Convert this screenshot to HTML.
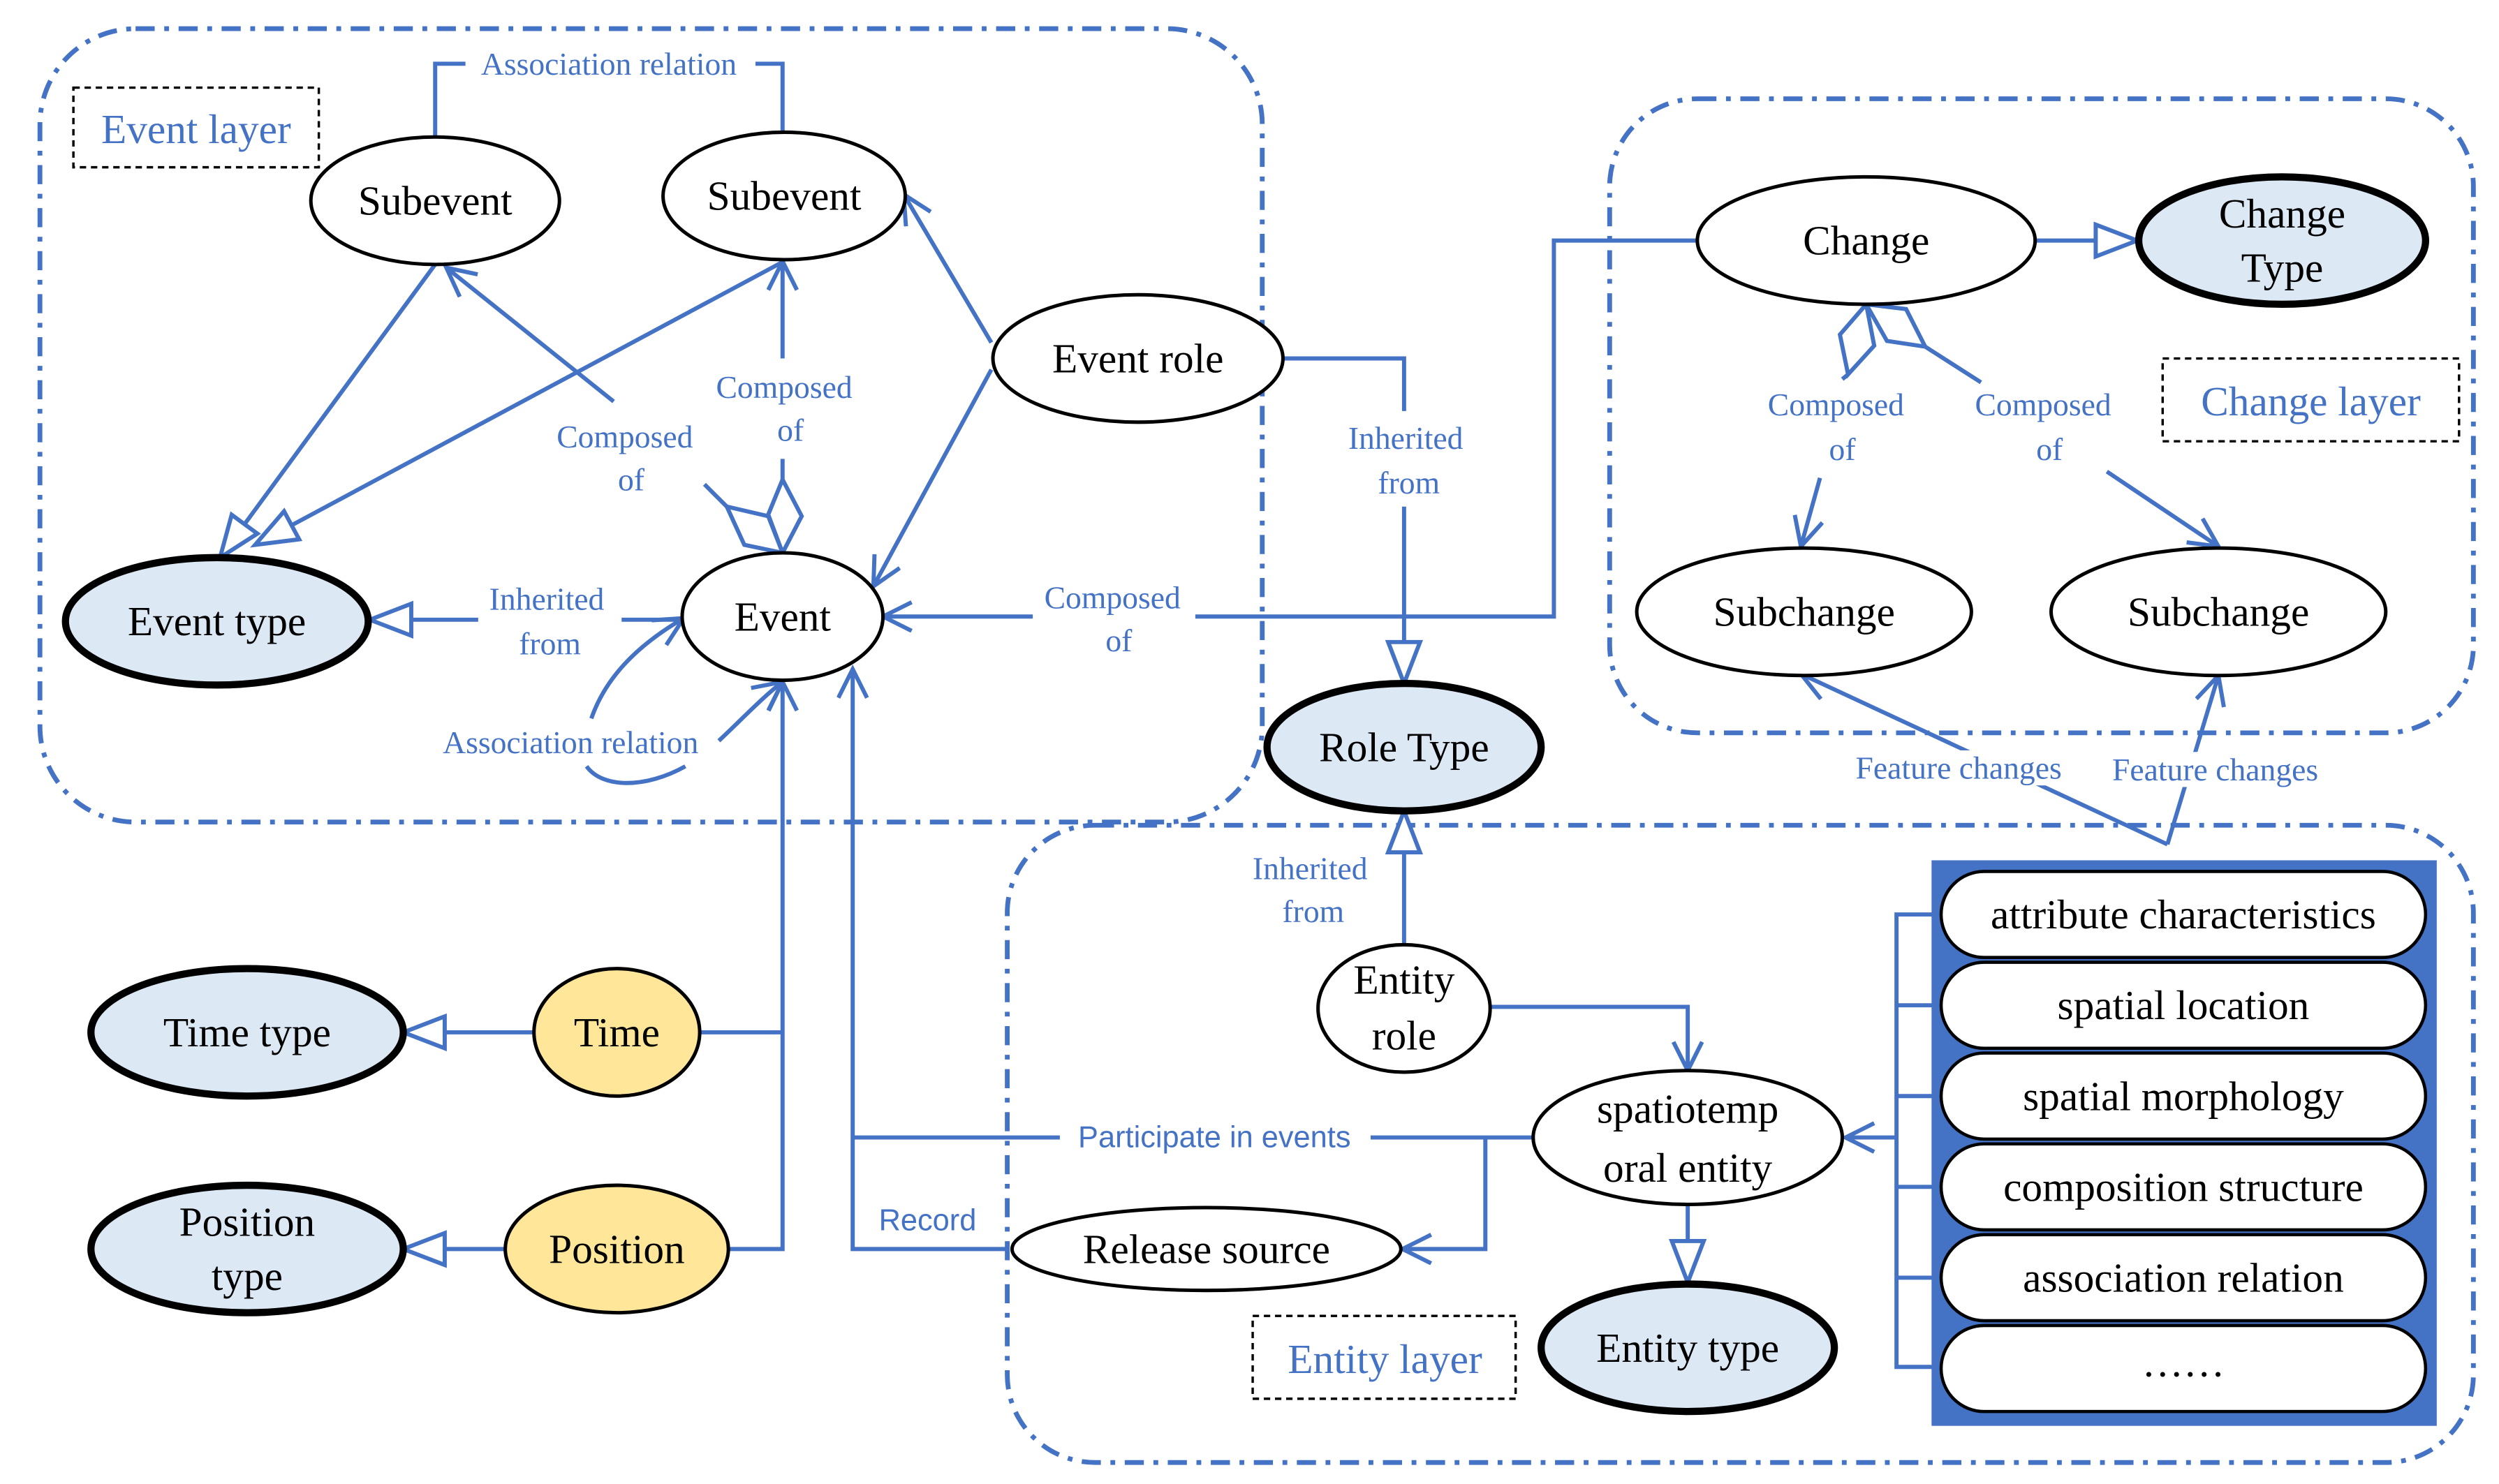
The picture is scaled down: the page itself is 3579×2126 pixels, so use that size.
<!DOCTYPE html>
<html><head><meta charset="utf-8"><style>
html,body{margin:0;padding:0;background:#fff}
svg{display:block}
.n{font-family:"Liberation Serif",serif;font-size:26px;fill:#000;text-anchor:middle;dominant-baseline:central}
.l{font-family:"Liberation Serif",serif;font-size:20px;fill:#4472c4;text-anchor:middle;dominant-baseline:central}
.s{font-family:"Liberation Sans",sans-serif;font-size:19px;fill:#4472c4;text-anchor:middle;dominant-baseline:central}
.c{stroke:#4472c4;stroke-width:2.6;fill:none}
.e{fill:#fff;stroke:#000;stroke-width:2.2}
.f{fill:#dde8f5;stroke:#000;stroke-width:4.5}
.y{fill:#ffe699;stroke:#000;stroke-width:2.2}
.d{stroke:#4472c4;stroke-width:3;fill:none;stroke-dasharray:12 6 3 6}
.dm{fill:#fff;stroke:#4472c4;stroke-width:2.6;stroke-linejoin:miter}
</style></head><body>
<svg width="3579" height="2126" viewBox="0 0 1568 931.5" xmlns="http://www.w3.org/2000/svg">
<defs>
<marker id="a" markerUnits="userSpaceOnUse" markerWidth="30" markerHeight="30" refX="20" refY="10" orient="auto"><path d="M2,1 L20,10 L2,19" fill="none" stroke="#4472c4" stroke-width="2.6"/></marker>
<marker id="t" markerUnits="userSpaceOnUse" markerWidth="34" markerHeight="30" refX="28" refY="12" orient="auto"><path d="M2,2 L28,12 L2,22 Z" fill="#fff" stroke="#4472c4" stroke-width="2.6"/></marker>
</defs>
<!-- layers -->
<rect x="25" y="18" width="767" height="498" rx="60" class="d"/>
<rect x="1010" y="62" width="542" height="398" rx="55" class="d"/>
<rect x="632" y="518" width="920" height="400" rx="55" class="d"/>
<rect x="46" y="55" width="154" height="50" fill="#fff" stroke="#000" stroke-width="1.5" stroke-dasharray="4 3"/>
<text x="123" y="81" class="n" style="fill:#4472c4">Event layer</text>
<rect x="1357" y="225" width="186" height="52" fill="#fff" stroke="#000" stroke-width="1.5" stroke-dasharray="4 3"/>
<text x="1450" y="252" class="n" style="fill:#4472c4">Change layer</text>
<rect x="786" y="826" width="165" height="52" fill="#fff" stroke="#000" stroke-width="1.5" stroke-dasharray="4 3"/>
<text x="869" y="853" class="n" style="fill:#4472c4">Entity layer</text>

<!-- connectors -->
<polyline points="273,86 273,40 491,40 491,83" class="c"/>
<rect x="292" y="30" width="182" height="20" fill="#fff"/>
<text x="382" y="40" class="l">Association relation</text>
<line x1="273" y1="166" x2="138" y2="350" class="c" marker-end="url(#t)"/>
<line x1="490" y1="165" x2="160" y2="342" class="c" marker-end="url(#t)"/>
<path d="M456,318 L442,304 M385,252 L280,168" class="c" marker-end="url(#a)"/>
<path d="M491,347 L467,342 L456,318 L482,324 Z" class="dm"/>
<text x="392" y="274" class="l">Composed</text><text x="396" y="301" class="l">of</text>
<path d="M491,301 L491,288 M491,225 L491,164" class="c" marker-end="url(#a)"/>
<path d="M491,347 L482,323 L491,301 L503,324 Z" class="dm"/>
<text x="492" y="243" class="l">Composed</text><text x="496" y="270" class="l">of</text>
<line x1="622" y1="215" x2="567" y2="122" class="c" marker-end="url(#a)"/>
<line x1="622" y1="232" x2="548" y2="368" class="c" marker-end="url(#a)"/>
<path d="M805,225 L881,225 L881,258 M881,318 L881,429" class="c" marker-end="url(#t)"/>
<text x="882" y="275" class="l">Inherited</text><text x="884" y="303" class="l">from</text>
<path d="M390,389 L428,389" class="c"/>
<line x1="300" y1="389" x2="232" y2="389" class="c" marker-end="url(#t)"/>
<text x="343" y="376" class="l">Inherited</text><text x="345" y="404" class="l">from</text>
<path d="M371,451 C380,425 400,405 429,388" class="c" marker-end="url(#a)"/>
<path d="M368,481 C378,495 405,495 430,481" class="c"/>
<path d="M451,465 C465,452 478,438 491,428" class="c" marker-end="url(#a)"/>
<text x="358" y="466" class="l">Association relation</text>
<path d="M1065,151 L975,151 L975,387 L750,387 M648,387 L554,387" class="c" marker-end="url(#a)"/>
<text x="698" y="375" class="l">Composed</text><text x="702" y="402" class="l">of</text>
<line x1="1277" y1="151" x2="1341" y2="151" class="c" marker-end="url(#t)"/>
<path d="M1171,191 L1154.5,210 L1159.6,235 L1176,217 Z" class="dm"/>
<path d="M1171,191 L1196,194 L1208,217.6 L1184,214 Z" class="dm"/>
<path d="M1208,217.6 L1243,240" class="c"/>
<path d="M1159.6,235 L1156,238" class="c"/>
<path d="M1142,300 L1130,343" class="c" marker-end="url(#a)"/>
<text x="1152" y="254" class="l">Composed</text><text x="1156" y="282" class="l">of</text>
<path d="M1322,296 L1392,343" class="c" marker-end="url(#a)"/>
<text x="1282" y="254" class="l">Composed</text><text x="1286" y="282" class="l">of</text>
<path d="M1360,530 L1130,423" class="c" marker-end="url(#a)"/>
<path d="M1360,530 L1392,424" class="c" marker-end="url(#a)"/>
<rect x="1155" y="471" width="148" height="22" fill="#fff"/>
<rect x="1316" y="472" width="148" height="22" fill="#fff"/>
<text x="1229" y="482" class="l">Feature changes</text>
<text x="1390" y="483" class="l">Feature changes</text>
<line x1="335" y1="648" x2="253" y2="648" class="c" marker-end="url(#t)"/>
<line x1="317" y1="784" x2="253" y2="784" class="c" marker-end="url(#t)"/>
<path d="M439,648 L491,648 M457,784 L491,784 L491,428" class="c" marker-end="url(#a)"/>
<path d="M632,784 L535,784 L535,420" class="c" marker-end="url(#a)"/>
<text x="582" y="766" class="s">Record</text>
<path d="M962,714 L535,714" class="c"/>
<rect x="665" y="703" width="195" height="22" fill="#fff"/>
<text x="762" y="714" class="s">Participate in events</text>
<path d="M932,714 L932,784 L880,784" class="c" marker-end="url(#a)"/>
<line x1="881" y1="593" x2="881" y2="509" class="c" marker-end="url(#t)"/>
<rect x="778" y="535" width="90" height="50" fill="#fff"/>
<text x="822" y="545" class="l">Inherited</text><text x="824" y="572" class="l">from</text>
<path d="M935,632 L1059,632 L1059,672" class="c" marker-end="url(#a)"/>
<line x1="1059" y1="756" x2="1059" y2="805" class="c" marker-end="url(#t)"/>
<path d="M1218,574 L1190,574 L1190,858 L1218,858 M1190,631 L1218,631 M1190,688 L1218,688 M1190,745 L1218,745 M1190,802 L1218,802" class="c"/>
<line x1="1190" y1="714" x2="1158" y2="714" class="c" marker-end="url(#a)"/>

<!-- nodes -->
<ellipse cx="273" cy="126" rx="78" ry="40" class="e"/><text x="273" y="126" class="n">Subevent</text>
<ellipse cx="492" cy="123" rx="76" ry="40" class="e"/><text x="492" y="123" class="n">Subevent</text>
<ellipse cx="714" cy="225" rx="91" ry="40" class="e"/><text x="714" y="225" class="n">Event role</text>
<ellipse cx="136" cy="390" rx="95" ry="40" class="f"/><text x="136" y="390" class="n">Event type</text>
<ellipse cx="491" cy="387" rx="63" ry="40" class="e"/><text x="491" y="387" class="n">Event</text>
<ellipse cx="881" cy="469" rx="86" ry="40" class="f"/><text x="881" y="469" class="n">Role Type</text>
<ellipse cx="1171" cy="151" rx="106" ry="40" class="e"/><text x="1171" y="151" class="n">Change</text>
<ellipse cx="1432" cy="151" rx="90" ry="40" class="f"/><text x="1432" y="134" class="n">Change</text><text x="1432" y="168" class="n">Type</text>
<ellipse cx="1132" cy="384" rx="105" ry="40" class="e"/><text x="1132" y="384" class="n">Subchange</text>
<ellipse cx="1392" cy="384" rx="105" ry="40" class="e"/><text x="1392" y="384" class="n">Subchange</text>
<ellipse cx="155" cy="648" rx="98" ry="40" class="f"/><text x="155" y="648" class="n">Time type</text>
<ellipse cx="387" cy="648" rx="52" ry="40" class="y"/><text x="387" y="648" class="n">Time</text>
<ellipse cx="155" cy="784" rx="98" ry="40" class="f"/><text x="155" y="767" class="n">Position</text><text x="155" y="801" class="n">type</text>
<ellipse cx="387" cy="784" rx="70" ry="40" class="y"/><text x="387" y="784" class="n">Position</text>
<ellipse cx="881" cy="633" rx="54" ry="40" class="e"/><text x="881" y="615" class="n">Entity</text><text x="881" y="650" class="n">role</text>
<ellipse cx="1059" cy="714" rx="97" ry="42" class="e"/><text x="1059" y="696" class="n">spatiotemp</text><text x="1059" y="733" class="n">oral entity</text>
<ellipse cx="757" cy="784" rx="122" ry="26" class="e"/><text x="757" y="784" class="n">Release source</text>
<ellipse cx="1059" cy="846" rx="92" ry="40" class="f"/><text x="1059" y="846" class="n">Entity type</text>

<rect x="1212" y="540" width="317" height="355" fill="#4472c4"/>
<g fill="#fff" stroke="#000" stroke-width="2">
<rect x="1218" y="547" width="304" height="54" rx="27"/>
<rect x="1218" y="604" width="304" height="54" rx="27"/>
<rect x="1218" y="661" width="304" height="54" rx="27"/>
<rect x="1218" y="718" width="304" height="54" rx="27"/>
<rect x="1218" y="775" width="304" height="54" rx="27"/>
<rect x="1218" y="832" width="304" height="54" rx="27"/>
</g>
<text x="1370" y="574" class="n">attribute characteristics</text>
<text x="1370" y="631" class="n">spatial location</text>
<text x="1370" y="688" class="n">spatial morphology</text>
<text x="1370" y="745" class="n">composition structure</text>
<text x="1370" y="802" class="n">association relation</text>
<text x="1370" y="855" class="n">……</text>
</svg>
</body></html>
